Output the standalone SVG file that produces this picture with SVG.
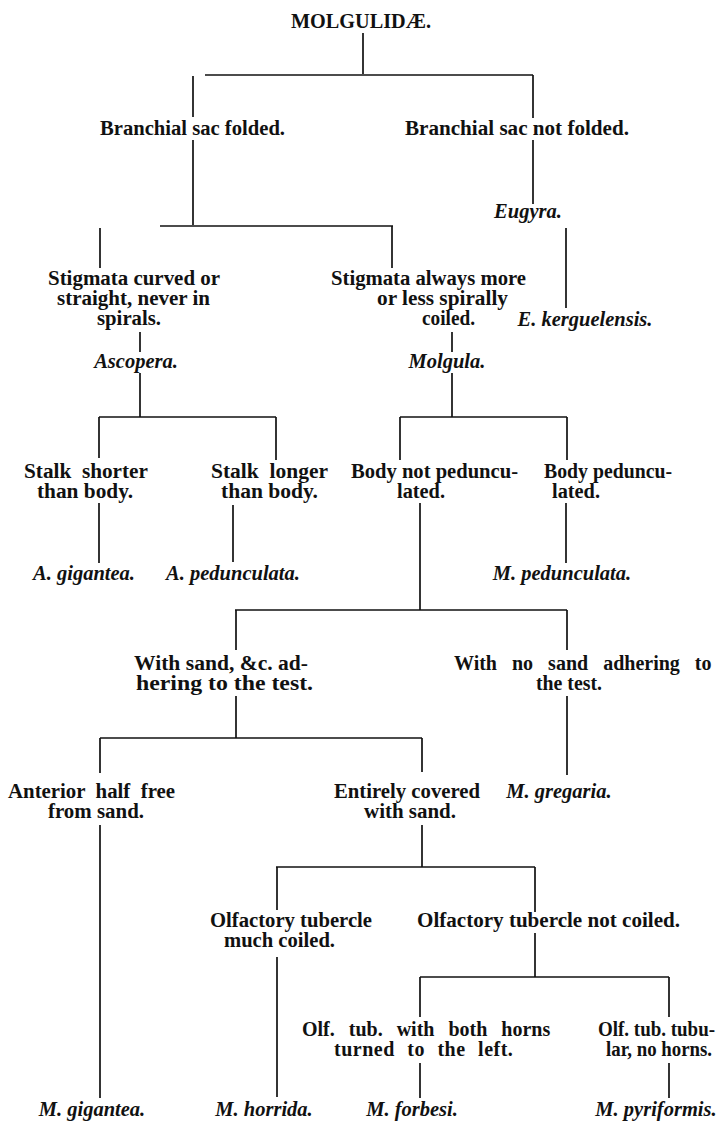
<svg xmlns="http://www.w3.org/2000/svg" width="720" height="1123" viewBox="0 0 720 1123">
<style>
  .bg { fill: #ffffff; }
  .t { font-family: "Liberation Serif", "Times New Roman", serif; font-size: 20px; font-weight: bold; fill: #111; }
  .ttl { font-family: "Liberation Serif", "Times New Roman", serif; font-size: 20px; font-weight: bold; fill: #111; }
  .sp { font-family: "Liberation Serif", "Times New Roman", serif; font-size: 20.5px; font-style: italic; font-weight: bold; fill: #111; text-anchor: middle; }
  .c line { stroke: #111; stroke-width: 1.7; fill: none; }
</style>
<rect class="bg" x="0" y="0" width="720" height="1123"/>

<g id="connectors" class="c">
  <line x1="363" y1="33" x2="363" y2="74"/>
  <line x1="205" y1="75" x2="533" y2="75"/>
  <line x1="193" y1="76" x2="193" y2="117"/>
  <line x1="533" y1="75" x2="533" y2="118"/>
  <line x1="193" y1="140" x2="193" y2="225"/>
  <line x1="533" y1="140" x2="533" y2="204"/>
  <line x1="160" y1="226" x2="393" y2="226"/>
  <line x1="100" y1="228" x2="100" y2="268"/>
  <line x1="392" y1="226" x2="392" y2="268"/>
  <line x1="566" y1="228" x2="566" y2="308"/>
  <line x1="140" y1="332" x2="140" y2="352"/>
  <line x1="452" y1="332" x2="452" y2="352"/>
  <line x1="140" y1="373" x2="140" y2="417"/>
  <line x1="452" y1="373" x2="452" y2="417"/>
  <line x1="99" y1="417" x2="276" y2="417"/>
  <line x1="99" y1="417" x2="99" y2="458"/>
  <line x1="276" y1="417" x2="276" y2="460"/>
  <line x1="400" y1="417" x2="567" y2="417"/>
  <line x1="400" y1="417" x2="400" y2="460"/>
  <line x1="567" y1="417" x2="567" y2="460"/>
  <line x1="99" y1="503" x2="99" y2="563"/>
  <line x1="233" y1="505" x2="233" y2="562"/>
  <line x1="420" y1="503" x2="420" y2="610"/>
  <line x1="566" y1="503" x2="566" y2="563"/>
  <line x1="235" y1="610" x2="567" y2="610"/>
  <line x1="236" y1="610" x2="236" y2="650"/>
  <line x1="567" y1="610" x2="567" y2="650"/>
  <line x1="236" y1="696" x2="236" y2="738"/>
  <line x1="100" y1="738" x2="422" y2="738"/>
  <line x1="100" y1="738" x2="100" y2="773"/>
  <line x1="422" y1="738" x2="422" y2="772"/>
  <line x1="567" y1="696" x2="567" y2="775"/>
  <line x1="100" y1="825" x2="100" y2="1098"/>
  <line x1="422" y1="825" x2="422" y2="867"/>
  <line x1="276" y1="867" x2="535" y2="867"/>
  <line x1="277" y1="867" x2="277" y2="910"/>
  <line x1="535" y1="867" x2="535" y2="912"/>
  <line x1="535" y1="933" x2="535" y2="977"/>
  <line x1="277" y1="957" x2="277" y2="1097"/>
  <line x1="420" y1="977" x2="669" y2="977"/>
  <line x1="420" y1="977" x2="420" y2="1017"/>
  <line x1="669" y1="977" x2="669" y2="1017"/>
  <line x1="420" y1="1063" x2="420" y2="1098"/>
  <line x1="669" y1="1063" x2="669" y2="1098"/>
</g>

<g id="n-molgulidae">
  <text class="ttl" x="291" y="28" textLength="140" lengthAdjust="spacingAndGlyphs">MOLGULIDÆ.</text>
</g>
<g id="n-folded">
  <text class="t" x="100" y="135" textLength="185" lengthAdjust="spacingAndGlyphs">Branchial sac folded.</text>
</g>
<g id="n-not-folded">
  <text class="t" x="405" y="135" textLength="224" lengthAdjust="spacingAndGlyphs">Branchial sac not folded.</text>
</g>
<g id="n-eugyra">
  <text class="sp" x="528" y="218">Eugyra.</text>
</g>
<g id="n-kerguelensis">
  <text class="sp" x="585" y="326">E. kerguelensis.</text>
</g>
<g id="n-stigmata-curved">
  <text class="t" x="48" y="285" textLength="172" lengthAdjust="spacingAndGlyphs">Stigmata curved or</text>
  <text class="t" x="57" y="305" textLength="153" lengthAdjust="spacingAndGlyphs">straight, never in</text>
  <text class="t" x="97" y="325" textLength="64" lengthAdjust="spacingAndGlyphs">spirals.</text>
</g>
<g id="n-stigmata-spiral">
  <text class="t" x="331" y="285" textLength="195" lengthAdjust="spacingAndGlyphs">Stigmata always more</text>
  <text class="t" x="377" y="305" textLength="131" lengthAdjust="spacingAndGlyphs">or less spirally</text>
  <text class="t" x="422" y="325" textLength="53" lengthAdjust="spacingAndGlyphs">coiled.</text>
</g>
<g id="n-ascopera">
  <text class="sp" x="136" y="368">Ascopera.</text>
</g>
<g id="n-molgula">
  <text class="sp" x="447" y="368">Molgula.</text>
</g>
<g id="n-stalk-shorter">
  <text class="t" x="24" y="478" textLength="124" lengthAdjust="spacingAndGlyphs" xml:space="preserve">Stalk  shorter</text>
  <text class="t" x="37" y="498" textLength="96" lengthAdjust="spacingAndGlyphs">than body.</text>
</g>
<g id="n-stalk-longer">
  <text class="t" x="211" y="478" textLength="117" lengthAdjust="spacingAndGlyphs" xml:space="preserve">Stalk  longer</text>
  <text class="t" x="221" y="498" textLength="97" lengthAdjust="spacingAndGlyphs">than body.</text>
</g>
<g id="n-body-not-ped">
  <text class="t" x="351" y="478" textLength="167" lengthAdjust="spacingAndGlyphs">Body not peduncu-</text>
  <text class="t" x="397" y="498" textLength="48" lengthAdjust="spacingAndGlyphs">lated.</text>
</g>
<g id="n-body-ped">
  <text class="t" x="544" y="478" textLength="128" lengthAdjust="spacingAndGlyphs">Body peduncu-</text>
  <text class="t" x="552" y="498" textLength="48" lengthAdjust="spacingAndGlyphs">lated.</text>
</g>
<g id="n-a-gigantea">
  <text class="sp" x="84" y="580">A. gigantea.</text>
</g>
<g id="n-a-pedunculata">
  <text class="sp" x="233" y="580">A. pedunculata.</text>
</g>
<g id="n-m-pedunculata">
  <text class="sp" x="562" y="580">M. pedunculata.</text>
</g>
<g id="n-with-sand">
  <text class="t" x="134" y="670" textLength="174" lengthAdjust="spacingAndGlyphs">With sand, &amp;c. ad-</text>
  <text class="t" x="136" y="690" textLength="177" lengthAdjust="spacingAndGlyphs">hering to the test.</text>
</g>
<g id="n-no-sand">
  <text class="t" x="454" y="670" word-spacing="10">With no sand adhering to</text>
  <text class="t" x="536" y="690" textLength="66" lengthAdjust="spacingAndGlyphs">the test.</text>
</g>
<g id="n-m-gregaria">
  <text class="sp" x="559" y="798">M. gregaria.</text>
</g>
<g id="n-anterior">
  <text class="t" x="8" y="798" textLength="167" lengthAdjust="spacingAndGlyphs" xml:space="preserve">Anterior  half  free</text>
  <text class="t" x="48" y="818" textLength="96" lengthAdjust="spacingAndGlyphs">from sand.</text>
</g>
<g id="n-entirely">
  <text class="t" x="334" y="798" textLength="146" lengthAdjust="spacingAndGlyphs">Entirely covered</text>
  <text class="t" x="364" y="818" textLength="92" lengthAdjust="spacingAndGlyphs">with sand.</text>
</g>
<g id="n-olf-coiled">
  <text class="t" x="210" y="927" textLength="162" lengthAdjust="spacingAndGlyphs">Olfactory tubercle</text>
  <text class="t" x="224" y="947" textLength="111" lengthAdjust="spacingAndGlyphs">much coiled.</text>
</g>
<g id="n-olf-not-coiled">
  <text class="t" x="417" y="927" textLength="263" lengthAdjust="spacingAndGlyphs">Olfactory tubercle not coiled.</text>
</g>
<g id="n-olf-horns">
  <text class="t" x="302" y="1036" word-spacing="9">Olf. tub. with both horns</text>
  <text class="t" x="334" y="1056" word-spacing="7" letter-spacing="0.5">turned to the left.</text>
</g>
<g id="n-olf-tubular">
  <text class="t" x="598" y="1036" textLength="117" lengthAdjust="spacingAndGlyphs">Olf. tub. tubu-</text>
  <text class="t" x="606" y="1056" textLength="106" lengthAdjust="spacingAndGlyphs">lar, no horns.</text>
</g>
<g id="n-m-gigantea">
  <text class="sp" x="92" y="1116">M. gigantea.</text>
</g>
<g id="n-m-horrida">
  <text class="sp" x="264" y="1116">M. horrida.</text>
</g>
<g id="n-m-forbesi">
  <text class="sp" x="412" y="1116">M. forbesi.</text>
</g>
<g id="n-m-pyriformis">
  <text class="sp" x="656" y="1116">M. pyriformis.</text>
</g>
</svg>
